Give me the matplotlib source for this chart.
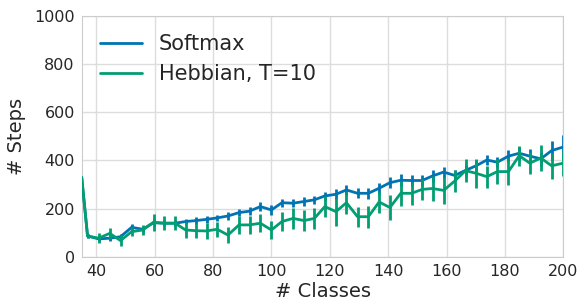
import matplotlib
matplotlib.use("Agg")
import matplotlib.pyplot as plt
from matplotlib.lines import Line2D
import seaborn as sns

sns.set_style("whitegrid")
plt.rcParams['font.family'] = ['DejaVu Sans']

classes = [35, 37, 40.8, 44.6, 48.3, 52.1, 55.9, 59.6, 63.3, 67.0, 70.6, 74.2,
           77.8, 81.4, 85.1, 88.9, 92.5, 96.2, 100.0, 103.6, 107.4, 111.2,
           114.7, 118.3, 122.1, 125.7, 129.5, 133.2, 136.9, 140.6, 144.3,
           148.0, 151.6, 155.2, 159.0, 162.8, 166.5, 170.1, 173.8, 177.4,
           181.2, 184.9, 188.5, 192.3, 196.0, 200.0]

softmax_mean = [330, 87, 75, 78, 84, 123, 115, 142, 140, 140, 147, 151,
                156, 162, 170, 184, 190, 209, 195, 225, 223, 230,
                237, 253, 260, 278, 264, 264, 285, 308, 318,
                317, 317, 336, 352, 338, 359, 378, 402, 393,
                418, 430, 418, 407, 441, 456]
softmax_err = [0, 8, 10, 12, 12, 15, 12, 15, 12, 12, 12, 14,
               14, 14, 15, 15, 16, 17, 20, 17, 17, 17,
               17, 17, 20, 22, 20, 22, 22, 22, 24,
               24, 22, 24, 23, 24, 23, 22, 21, 22,
               24, 26, 30, 28, 40, 50]

hebbian_mean = [330, 87, 78, 98, 68, 105, 112, 144, 140, 140, 112, 109,
                108, 115, 91, 133, 133, 140, 112, 147, 160, 151,
                160, 209, 188, 225, 167, 167, 228, 205, 264,
                264, 280, 284, 276, 315, 358, 347, 333, 354,
                354, 420, 389, 410, 378, 389]
hebbian_err = [0, 8, 20, 24, 23, 18, 21, 36, 30, 28, 32, 32,
               32, 32, 34, 36, 38, 38, 36, 41, 45, 42,
               45, 45, 58, 45, 41, 45, 45, 50, 52,
               48, 42, 52, 55, 45, 48, 60, 45, 52,
               55, 42, 45, 55, 55, 55]

series_labels = ['Softmax', 'Hebbian, T=10']
blue = '#0173B2'
green = '#029E73'

fig = plt.figure(figsize=(5.82, 3.02), dpi=100)
ax = fig.add_axes([0.1404, 0.149, 0.8275, 0.799])

ax.errorbar(classes, softmax_mean, yerr=softmax_err, color=blue, lw=2.0,
            elinewidth=2.0, capsize=0, zorder=3)
ax.errorbar(classes, hebbian_mean, yerr=hebbian_err, color=green, lw=2.0,
            elinewidth=2.0, capsize=0, zorder=4)

ax.set_xlim(35, 200)
ax.set_ylim(0, 1000)
ax.set_xticks([40, 60, 80, 100, 120, 140, 160, 180, 200])
ax.set_yticks([0, 200, 400, 600, 800, 1000])
ax.tick_params(axis='both', labelsize=11.5, colors='#262626', length=0, pad=5)
ax.set_xlabel('# Classes', fontsize=14, color='#262626', labelpad=2)
ax.set_ylabel('# Steps', fontsize=14, color='#262626', labelpad=6)
for s in ax.spines.values():
    s.set_color('#cccccc')
ax.grid(True, color='#dddddd', lw=1.0)

handles = [Line2D([], [], color=blue, lw=2.0), Line2D([], [], color=green, lw=2.0)]
leg = ax.legend(handles, series_labels, loc='upper left', frameon=False,
                fontsize=15, labelspacing=0.45)
for t in leg.get_texts():
    t.set_color('#262626')

fig.savefig('out.png', dpi=100)
